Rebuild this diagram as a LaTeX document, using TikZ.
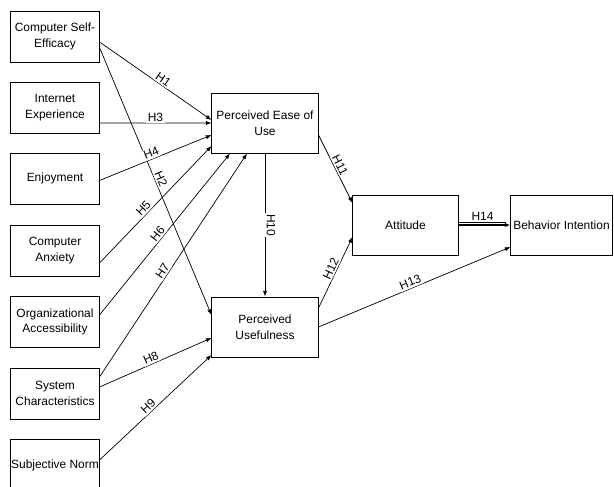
\documentclass[tikz,border=0pt]{standalone}
\usepackage{fontspec}
\setmainfont{Liberation Sans}
\usepackage{tikz}
\usetikzlibrary{arrows.meta,calc}

\begin{document}
\begin{tikzpicture}[x=0.025cm, y=-0.025cm,
        font=\fontsize{8.5}{11}\selectfont,
        factor/.style={draw, line width=0.7pt, minimum width=2.2cm, minimum height=1.275cm, align=center, inner sep=0pt},
        construct/.style={draw, line width=0.7pt, minimum width=2.65cm, minimum height=1.5cm, align=center, inner sep=1pt},
        hyp/.style={-{Latex[length=4pt,width=3pt]}, line width=0.5pt},
        hlabel/.style={sloped, above, fill=white, inner sep=1pt}]
        \useasboundingbox (0,0) rectangle (614,487);

        % external variables
        \node[factor] (cse) at (55,36.5) {Computer Self-\\Efficacy};
        \node[factor] (ie) at (55,107.5) {Internet\\Experience};
        \node[factor] (enj) at (55,178.5) {Enjoyment};
        \node[factor] (ca) at (55,250.5) {Computer\\Anxiety};
        \node[factor] (oa) at (55,322) {Organizational\\Accessibility};
        \node[factor] (sc) at (55,393.5) {System\\Characteristics};
        \node[factor] (sn) at (55,465) {Subjective Norm};

        % TAM constructs
        \node[construct] (peu) at (265,123) {Perceived Ease of\\Use};
        \node[construct] (pu) at (265,327) {Perceived\\Usefulness};
        \node[construct, minimum width=2.625cm] (att) at (405.5,225) {Attitude};
        \node[construct, minimum width=2.525cm, inner sep=0pt] (bi) at (561.5,225) {Behavior Intention};

        % hypotheses
        \draw[hyp] ($(cse.east)+(0,5.5)$) -- node[hlabel, pos=0.54] (h1) {H1} ($(peu.west)+(0,-3)$);
        \draw[hyp] ($(cse.east)+(0,11)$) -- node[hlabel, pos=0.5] (h2) {H2} ($(pu.west)+(0,-12)$);
        \draw[hyp] ($(ie.east)+(0,15.5)$) -- node[hlabel, pos=0.5] (h3) {H3} (peu.west);
        \draw[hyp] ($(enj.east)+(0,2)$) -- node[hlabel, pos=0.48] (h4) {H4} ($(peu.west)+(0,12)$);
        \draw[hyp] ($(ca.east)+(0,12.5)$) -- node[hlabel, pos=0.43] (h5) {H5} ($(peu.west)+(0,23)$);
        \draw[hyp] ($(oa.east)+(0,-7)$) -- node[hlabel, pos=0.48] (h6) {H6} ($(peu.south)+(-35,0)$);
        \draw[hyp] ($(sc.east)+(0,-16.5)$) -- node[hlabel, pos=0.46] (h7) {H7} ($(peu.south)+(-18,0)$);
        \draw[hyp] ($(sc.east)+(0,-6.5)$) -- node[hlabel, pos=0.48] (h8) {H8} ($(pu.west)+(0,11)$);
        \draw[hyp] ($(sn.east)+(0,-5)$) -- node[hlabel, pos=0.47] (h9) {H9} ($(pu.west)+(0,28)$);
        \draw[hyp] (peu.south) -- node[hlabel, pos=0.5] (h10) {H10} (pu.north);
        \draw[hyp] ($(peu.east)+(0,12)$) -- node[hlabel, pos=0.48] (h11) {H11} ($(att.west)+(0,-22)$);
        \draw[hyp] ($(pu.east)+(0,-19)$) -- node[hlabel, pos=0.52] (h12) {H12} ($(att.west)+(0,12)$);
        \draw[hyp] (pu.east) -- node[hlabel, pos=0.49] (h13) {H13} ($(bi.west)+(0,22)$);
        \draw[hyp, line width=1pt] (att.east) -- (bi.west);
        \draw[line width=0.4pt] ($(att.east)+(0,-3)$) -- node[hlabel, pos=0.5] (h14) {H14} ($(bi.west)+(-4,-3)$);
\end{tikzpicture}
\end{document}
